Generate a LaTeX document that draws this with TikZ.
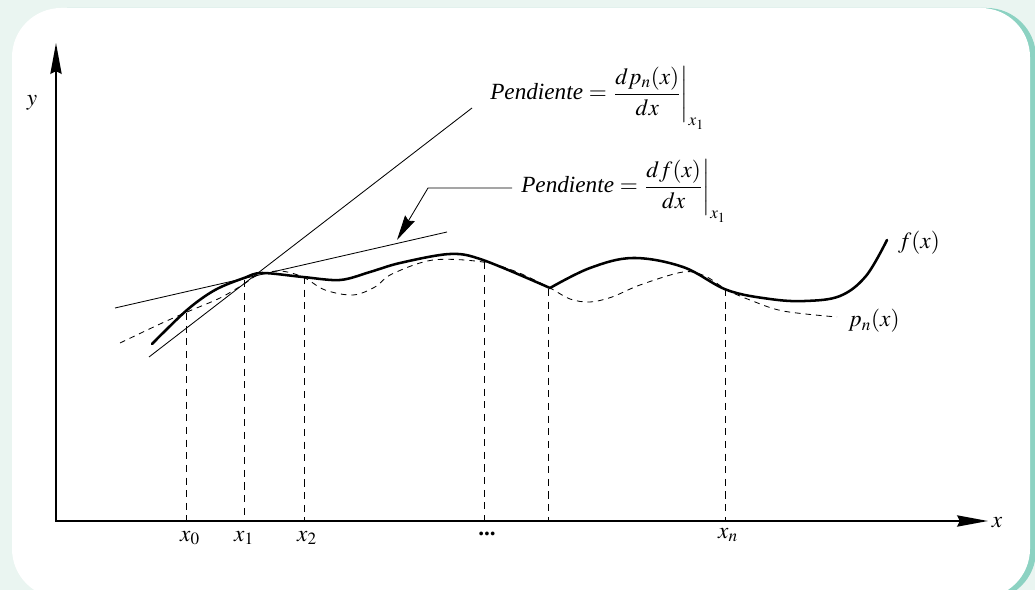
\documentclass[tikz,border=0pt]{standalone}
\usepackage{amsmath}
\usepackage{mathptmx}
\usepackage{fontspec}
\setmainfont{Liberation Serif}
\usepackage{tikz}
\usetikzlibrary{arrows.meta, positioning, calc}
\definecolor{framemint}{RGB}{234,245,241}
\definecolor{frameteal}{RGB}{140,210,194}
\newcommand{\slopeat}[1]{\textit{Pendiente} $\thickmuskip=4mu\relax = \left.\dfrac{#1}{dx}\vphantom{\dfrac{(x)}{(x)_|}}\right|_{x_1}$}
\tikzstyle{axis} = [line width=1.3pt, line join=miter, {Stealth[length=22pt,width=8pt,inset=2pt]}-{Stealth[length=22pt,width=8pt,inset=2pt]}]
\tikzstyle{fcurve} = [line width=1.8pt, line join=round, line cap=round]
\tikzstyle{pcurve} = [line width=0.6pt, dash pattern=on 4pt off 3.5pt]
\tikzstyle{guide} = [line width=0.6pt, dash pattern=on 5pt off 4pt]
\tikzstyle{tangent} = [line width=0.6pt]
\tikzstyle{pointer} = [line width=0.6pt, -{Stealth[length=18pt,width=8pt,inset=2pt]}]
\tikzstyle{tick} = [anchor=north, inner sep=0pt]
\tikzstyle{slope} = [anchor=base west, inner sep=0pt]

\begin{document}
\begin{tikzpicture}[x=0.025cm, y=-0.025cm, font=\fontsize{16.5}{19}\selectfont]
    \useasboundingbox (0,0) rectangle (1035,590);
    % frame
    \fill[framemint] (0,0) rectangle (1035,590);
    \fill[frameteal, rounded corners=35] (18,8) rectangle (1036,600);
    \fill[white, rounded corners=35] (12,8) rectangle (1030,598);

    % axes
    \coordinate (o) at (56,521);
    \coordinate (ytip) at (56,43);
    \coordinate (xtip) at (988,521);
    \draw[axis] (ytip) -- (o) -- (xtip);
    \node (ylab) at (32,103) {$y$};
    \node (xlab) at (997,523) {$x$};

    % nodes x_i
    \foreach \i/\x/\y in {0/186/313, 1/244/280, 2/304/277, 3/484/262, 4/548/289, 5/725/289} {
        \coordinate (g\i) at (\x,\y);
        \draw[guide] (g\i) -- (g\i |- o);
    }
    \node[tick] (t0) at (190,531) {$x_0$};
    \node[tick] (t1) at (244,531) {$x_1$};
    \node[tick] (t2) at (307,531) {$x_2$};
    \node (t3) at (487,534) {\textbf{...}};
    \node[tick] (t5) at (728,528) {$x_n$};

    % tangents at x_1
    \coordinate (tp1) at (149,357);
    \coordinate (tp2) at (472,108);
    \coordinate (tf1) at (115,308);
    \coordinate (tf2) at (447,232);
    \draw[tangent] (tp1) -- (tp2);
    \draw[tangent] (tf1) -- (tf2);

    % p_n(x)
    \draw[pcurve] plot[smooth, tension=0.55] coordinates {(120,343) (160,324) (187,312) (220,298) (244,284) (258,275) (280,271) (303,277) (325,290) (353,295) (375,287) (392,274) (433,260) (483,262) (517,272) (550,288) (570,299) (590,302) (612,297) (640,285) (683,272) (705,276) (727,290) (750,300) (783,311) (837,317)};

    % f(x)
    \draw[fcurve] plot[smooth, tension=0.55] coordinates {(152,344) (187,310) (215,290) (244,278) (262,273) (303,277) (340,280) (370,272) (400,263) (450,254) (483,260) (550,288)};
    \draw[fcurve] plot[smooth, tension=0.6] coordinates {(550,288) (590,268) (633,258) (683,267) (727,290) (770,299) (805,301) (840,296) (866,276) (887,240)};
    \node (flab) at (919,243) {$f(x)$};
    \node (plab) at (874,321) {$p_n(x)$};

    % slope labels
    \node[slope] (slopep) at (490,100) {\slopeat{dp_n(x)}};
    \node[slope] (slopef) at (521,193) {\slopeat{df(x)}};
    \coordinate (bend) at (428,188);
    \coordinate (tipf) at (397,240);
    \draw[pointer] ($(bend -| slopef.west)+(-9,0)$) -- (bend) -- (tipf);
\end{tikzpicture}
\end{document}
